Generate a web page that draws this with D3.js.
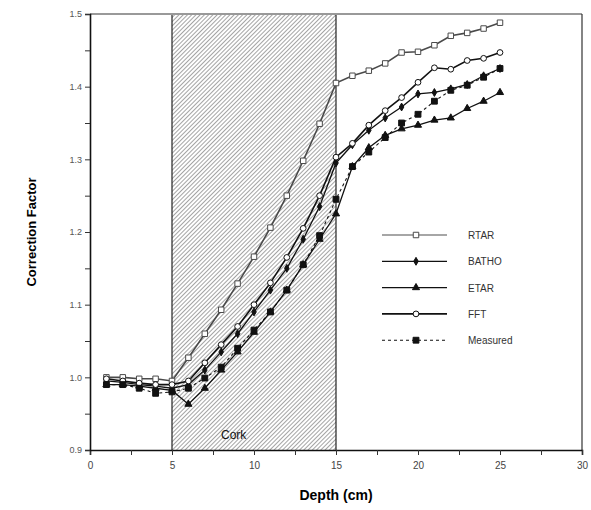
<!DOCTYPE html>
<html>
<head>
<meta charset="utf-8">
<script src="https://cdn.jsdelivr.net/npm/d3@7"></script>
<style>
  body { margin: 0; background: #fff; }
  text { font-family: Arial, "Liberation Sans", sans-serif; }
</style>
</head>
<body>
<script>
// depths (cm) shared by every series
var depth = [1, 2, 3, 4, 5, 6, 7, 8, 9, 10, 11, 12, 13, 14, 15, 16, 17, 18, 19, 20, 21, 22, 23, 24, 25];

var rtar = [1.000, 1.000, 0.998, 0.998, 0.995, 1.027, 1.060, 1.093, 1.129, 1.166, 1.206, 1.250, 1.298, 1.349, 1.405,
            1.415, 1.422, 1.432, 1.447, 1.448, 1.457, 1.470, 1.474, 1.480, 1.488];
var batho = [0.995, 0.993, 0.990, 0.988, 0.985, 0.990, 1.010, 1.035, 1.060, 1.090, 1.120, 1.150, 1.190, 1.235, 1.295,
             1.320, 1.340, 1.357, 1.372, 1.390, 1.392, 1.397, 1.403, 1.415, 1.425];
var etar = [0.990, 0.990, 0.988, 0.985, 0.982, 0.963, 0.985, 1.010, 1.035, 1.062, 1.090, 1.120, 1.155, 1.190, 1.225,
            1.290, 1.316, 1.333, 1.342, 1.347, 1.354, 1.357, 1.370, 1.380, 1.392];
var fft = [0.998, 0.995, 0.992, 0.990, 0.990, 0.995, 1.020, 1.045, 1.070, 1.100, 1.130, 1.165, 1.205, 1.250, 1.303,
           1.322, 1.347, 1.367, 1.385, 1.406, 1.426, 1.424, 1.436, 1.439, 1.447];
var measured = [0.990, 0.990, 0.985, 0.978, 0.980, 0.985, 0.999, 1.014, 1.040, 1.065, 1.090, 1.120, 1.155, 1.195, 1.245,
                1.290, 1.310, 1.330, 1.350, 1.362, 1.380, 1.395, 1.402, 1.413, 1.425];

var seriesNames = ['RTAR', 'BATHO', 'ETAR', 'FFT', 'Measured'];
var xTicks = [0, 5, 10, 15, 20, 25, 30];
var yTicks = [0.9, 1.0, 1.1, 1.2, 1.3, 1.4, 1.5];
var cork = [5, 15];

var W = 591, H = 510;
var margin = {top: 14, right: 9, bottom: 60, left: 90};
var width = W - margin.left - margin.right,
    height = H - margin.top - margin.bottom;

var x = d3.scaleLinear().domain([0, 30]).range([0, width]);
var y = d3.scaleLinear().domain([0.9, 1.5]).range([height, 0]);

var svg = d3.select("body").append("svg")
    .attr("width", W).attr("height", H);

// hatch for the cork slab
var defs = svg.append("defs");
defs.append("pattern")
    .attr("id", "hatch")
    .attr("patternUnits", "userSpaceOnUse")
    .attr("width", 3).attr("height", 3)
    .attr("patternTransform", "rotate(45)")
  .append("line")
    .attr("x1", 0).attr("y1", 0).attr("x2", 0).attr("y2", 3)
    .attr("stroke", "#7c7c7c").attr("stroke-width", 1.4);

var g = svg.append("g")
    .attr("transform", "translate(" + margin.left + "," + margin.top + ")");

g.append("rect")
    .attr("x", x(cork[0])).attr("y", 0)
    .attr("width", x(cork[1]) - x(cork[0])).attr("height", height)
    .attr("fill", "url(#hatch)");

cork.forEach(function(c) {
  g.append("line")
      .attr("x1", x(c)).attr("x2", x(c)).attr("y1", 0).attr("y2", height)
      .attr("stroke", "#222").attr("stroke-width", 1.2);
});

g.append("text")
    .attr("x", x(10) - 33).attr("y", y(0.92) + 4)
    .attr("font-size", 12).attr("fill", "#111")
    .text("Cork");

// frame: top and right
g.append("line").attr("x1", 0).attr("x2", width).attr("y1", 0).attr("y2", 0)
    .attr("stroke", "#999").attr("stroke-width", 2);
g.append("line").attr("x1", width).attr("x2", width).attr("y1", 0).attr("y2", height)
    .attr("stroke", "#333").attr("stroke-width", 1.2);

// axes
var xAxis = d3.axisBottom(x).tickValues(d3.range(0, 30.1, 2.5))
    .tickSize(5).tickFormat(function(d) { return xTicks.indexOf(d) >= 0 ? d : ""; });
var gx = g.append("g").attr("transform", "translate(0," + height + ")").call(xAxis);
gx.select(".domain").attr("stroke", "#111").attr("stroke-width", 1.6);
gx.selectAll(".tick line").attr("stroke", "#333");
gx.selectAll(".tick text").attr("font-size", 10).attr("fill", "#444").attr("dy", "1.1em");

var yAxis = d3.axisLeft(y).tickValues(d3.range(0, 13).map(function(i) { return +(0.9 + i * 0.05).toFixed(2); }))
    .tickSize(5).tickFormat(function(d) { return yTicks.indexOf(d) >= 0 ? d3.format(".1f")(d) : ""; });
var gy = g.append("g").call(yAxis);
gy.select(".domain").attr("stroke", "#111").attr("stroke-width", 1.6);
gy.selectAll(".tick line").attr("stroke", "#333");
gy.selectAll(".tick text").attr("font-size", 9).attr("fill", "#555");

// axis titles
svg.append("text")
    .attr("x", margin.left + x(15)).attr("y", 500)
    .attr("text-anchor", "middle").attr("font-size", 14).attr("font-weight", "bold")
    .text("Depth (cm)");
svg.append("text")
    .attr("transform", "translate(36," + (margin.top + height / 2) + ") rotate(-90)")
    .attr("text-anchor", "middle").attr("font-size", 13).attr("font-weight", "bold")
    .text("Correction Factor");

// series
var styles = {
  RTAR:     {values: rtar,     stroke: "#4a4a4a", width: 1.6, dash: null,  marker: "square",   fill: "#fff", size: 30},
  BATHO:    {values: batho,    stroke: "#111",    width: 1.3, dash: null,  marker: "diamond",  fill: "#111", size: 18},
  ETAR:     {values: etar,     stroke: "#111",    width: 1.3, dash: null,  marker: "triangle", fill: "#111", size: 22},
  FFT:      {values: fft,      stroke: "#111",    width: 1.6, dash: null,  marker: "circle",   fill: "#fff", size: 26},
  Measured: {values: measured, stroke: "#111",    width: 1.1, dash: "3,3", marker: "square",   fill: "#111", size: 34}
};
var symbolType = {square: d3.symbolSquare, diamond: d3.symbolDiamond, triangle: d3.symbolTriangle, circle: d3.symbolCircle};

var line = d3.line()
    .x(function(d) { return x(d[0]); })
    .y(function(d) { return y(d[1]); });

seriesNames.forEach(function(name) {
  var s = styles[name];
  var pts = depth.map(function(d, i) { return [d, s.values[i]]; });
  g.append("path")
      .datum(pts)
      .attr("d", line)
      .attr("fill", "none")
      .attr("stroke", s.stroke)
      .attr("stroke-width", s.width)
      .attr("stroke-dasharray", s.dash);
  g.selectAll(".m-" + name)
      .data(pts)
    .enter().append("path")
      .attr("class", "m-" + name)
      .attr("transform", function(d) { return "translate(" + x(d[0]) + "," + y(d[1]) + ")"; })
      .attr("d", d3.symbol().type(symbolType[s.marker]).size(s.size))
      .attr("fill", s.fill)
      .attr("stroke", s.stroke)
      .attr("stroke-width", 1);
});

// legend
var legend = svg.append("g").attr("transform", "translate(382,235)");
seriesNames.forEach(function(name, i) {
  var s = styles[name];
  var row = legend.append("g").attr("transform", "translate(0," + (i * 26.3) + ")");
  row.append("line")
      .attr("x1", 0).attr("x2", 65).attr("y1", 0).attr("y2", 0)
      .attr("stroke", name === "RTAR" ? "#888" : s.stroke).attr("stroke-width", s.width)
      .attr("stroke-dasharray", s.dash);
  row.append("path")
      .attr("transform", "translate(34,0)")
      .attr("d", d3.symbol().type(symbolType[s.marker]).size(s.size))
      .attr("fill", s.fill).attr("stroke", s.stroke).attr("stroke-width", 1);
  row.append("text")
      .attr("x", 86).attr("y", 4)
      .attr("font-size", 10).attr("fill", "#333")
      .text(name);
});
</script>
</body>
</html>
